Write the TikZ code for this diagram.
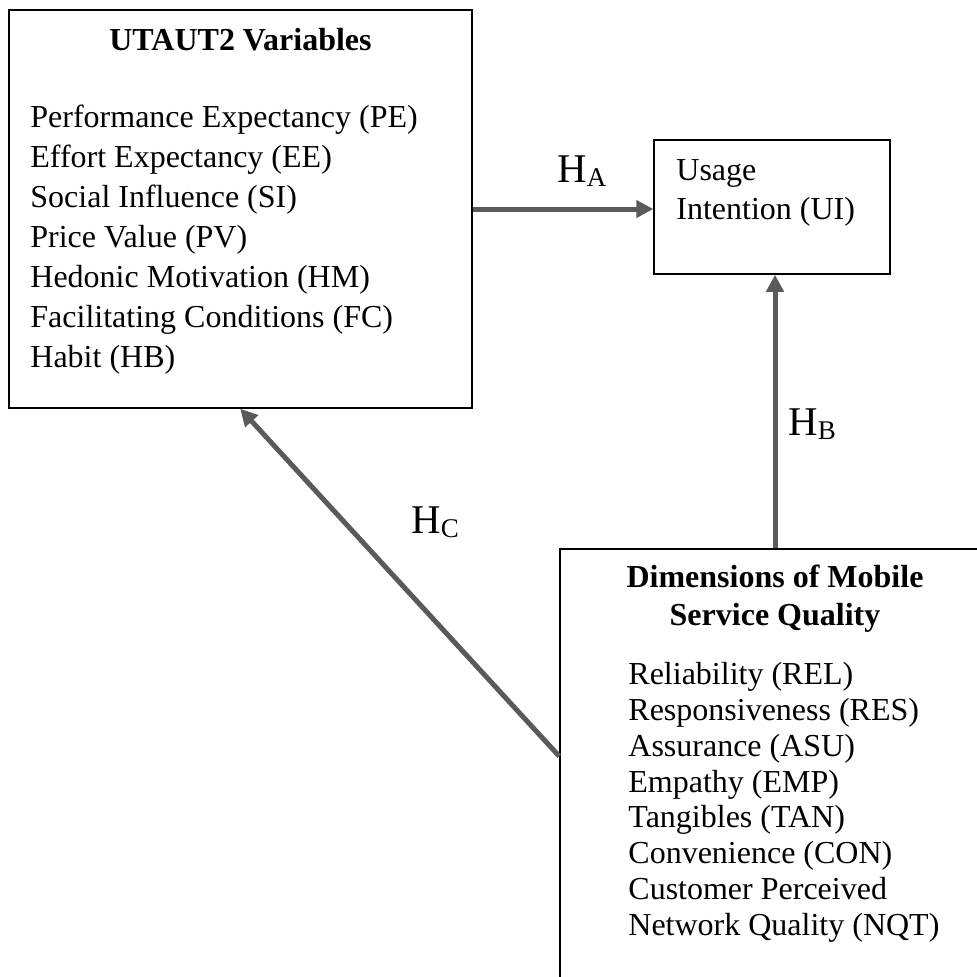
\documentclass[tikz,border=0pt]{standalone}
\usepackage{fontspec}
\setmainfont{Liberation Serif}
\usetikzlibrary{arrows.meta,positioning}
\definecolor{arrowgray}{HTML}{5A5A5A}
\tikzset{
  boxnode/.style={draw=black,line width=0.75pt,rectangle,inner sep=0pt},
  txt/.style={inner sep=0pt,font=\fontsize{16}{19.92}\selectfont},
  titletxt/.style={inner sep=0pt,font=\fontsize{16}{19}\selectfont\bfseries,align=center},
  hyp/.style={inner sep=0pt,anchor=base west,font=\fontsize{20.4}{22}\selectfont},
  conn/.style={draw=arrowgray,line width=2.5pt,-{Triangle[length=8.5pt,width=8.5pt]}}
}
\newcommand{\hsub}[1]{H{\fontsize{13.5}{14}\selectfont\raisebox{-2.2pt}{#1}}}
\begin{document}
\begin{tikzpicture}[x=0.5pt,y=-0.5pt]
\useasboundingbox (0,0) rectangle (977,976);
\clip (0,0) rectangle (977,976);
\fill[white] (0,0) rectangle (977,976);
% boxes
\node[boxnode,minimum width=231.5pt,minimum height=199pt] (utaut) at (240.5,209) {};
\node[boxnode,minimum width=118pt,minimum height=67pt] (ui) at (772,207) {};
\node[boxnode,minimum width=215pt,minimum height=230.5pt] (dim) at (775,779.5) {};
% box texts (base anchor of a multi-line node = last line baseline)
\node[titletxt,anchor=base] (utauttitle) at (240.5,50) {UTAUT2 Variables};
\node[txt,anchor=base west,align=left] (utautitems) at (30,367) {Performance Expectancy (PE)\\Effort Expectancy (EE)\\Social Influence (SI)\\Price Value (PV)\\Hedonic Motivation (HM)\\Facilitating Conditions (FC)\\Habit (HB)};
\node[txt,anchor=base west,align=left,font=\fontsize{16}{19.5}\selectfont] (uitext) at (676,219) {Usage\\Intention (UI)};
\node[titletxt,anchor=base] (dimtitle) at (775,625) {Dimensions of Mobile\\Service Quality};
\node[txt,anchor=base west,align=left,font=\fontsize{16}{17.86}\selectfont] (dimitems) at (628,935) {Reliability (REL)\\Responsiveness (RES)\\Assurance (ASU)\\Empathy (EMP)\\Tangibles (TAN)\\Convenience (CON)\\Customer Perceived\\Network Quality (NQT)};
% connectors
\draw[conn] (utaut.east) -- (utaut.east -| ui.west);
\draw[conn] (dim.north) -- (dim.north |- ui.south);
\draw[conn] ([yshift=-104pt]dim.north west) -- ([xshift=116pt]utaut.south west);
% hypothesis labels
\node[hyp] (ha) at (557,182) {\hsub{A}};
\node[hyp] (hb) at (788,435) {\hsub{B}};
\node[hyp] (hc) at (411,533) {\hsub{C}};
\end{tikzpicture}
\end{document}
